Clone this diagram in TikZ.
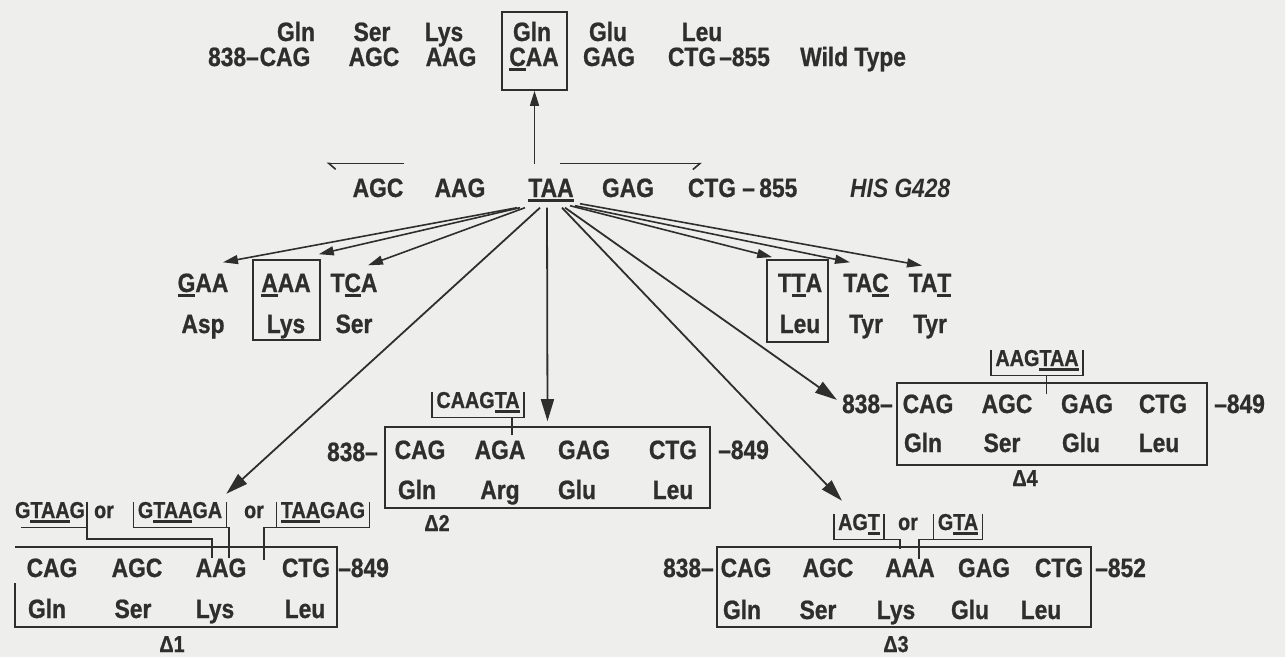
\documentclass[tikz,border=0pt]{standalone}
\usepackage{fontspec}
\newfontfamily\seqfont{Liberation Sans}[FakeStretch=0.86,BoldFeatures={FakeBold=0.8}]
\usepackage{tikz}
\usetikzlibrary{arrows.meta,calc}
\definecolor{paper}{HTML}{EEEEEC}
\definecolor{ink}{HTML}{2E2E2E}
% underlined letters
\newcommand\ulet[1]{\setbox0=\hbox{#1}\rlap{\rule[-4.5pt]{\wd0}{2.2pt}}\box0}
% open bracket under an inserted sequence
\newcommand\bracketit[1]{\draw[bline] (#1.north west) -- ([yshift=-5pt]#1.south west) -- ([yshift=-5pt]#1.south east) -- (#1.north east);}

\begin{document}
\begin{tikzpicture}[x=1pt,y=-1pt,color=ink,
  seq/.style={font=\seqfont\bfseries\fontsize{26.5}{28}\selectfont,inner sep=0pt,anchor=base},
  sml/.style={font=\seqfont\bfseries\fontsize{23}{25}\selectfont,inner sep=0pt,anchor=base},
  brk/.style={sml,inner xsep=4pt},
  boxed/.style={draw,line width=1.6pt,inner sep=0pt},
  bline/.style={line width=1.5pt},
  frm/.style={line width=1.6pt},
  bigarr/.style={line width=1.8pt,-{Triangle[length=22pt,width=13pt]}},
  smlarr/.style={line width=1.6pt,-{Triangle[length=15pt,width=9pt]}}]
\fill[paper] (0,0) rectangle (1285,657);
\useasboundingbox (0,0) rectangle (1285,657);

% wild type
\node[seq] (wgln1) at (296,41) {Gln};
\node[seq] (wser) at (372,41) {Ser};
\node[seq] (wlys) at (444,41) {Lys};
\node[seq] (wgln2) at (532,41) {Gln};
\node[seq] (wglu) at (608,41) {Glu};
\node[seq] (wleu) at (702,41) {Leu};
\node[seq,anchor=base east] (w838) at (259,66) {838–};
\node[seq] (wcag) at (285,66) {CAG};
\node[seq] (wagc) at (374,66) {AGC};
\node[seq] (waag) at (451,66) {AAG};
\node[seq] (wcaa) at (534,66) {\ulet{C}AA};
\node[seq] (wgag) at (609,66) {GAG};
\node[seq] (wctg) at (692,66) {CTG};
\node[seq,anchor=base west] (w855) at (719,66) {–855};
\node[seq,anchor=base west] (wtlab) at (800,66) {Wild Type};
\node[boxed,minimum width=65pt,minimum height=78pt] (wtbox) at (534.5,51) {};

% HIS G428
\node[seq] (magc) at (378,197) {AGC};
\node[seq] (maag) at (460,197) {AAG};
\node[seq] (taa) at (551,197) {\ulet{TAA}};
\node[seq] (mgag) at (628,197) {GAG};
\node[seq] (mctg) at (712,197) {CTG};
\node[seq,anchor=base west] (m855) at (742,197) {–\,855};
\node[seq,anchor=base west] (hislab) at (850,197) {\itshape HIS G428};
\draw[frm,-{Straight Barb[harpoon,length=7pt,width=12pt]}] ([yshift=15pt]magc.north east) -- ++(-77,0);
\draw[frm,-{Straight Barb[harpoon,swap,length=7pt,width=12pt]}] ([xshift=9pt,yshift=15pt]taa.north) -- ++(142,0);
\draw[smlarr] ($(wtbox.south |- taa.north)+(0,-15)$) -- (wtbox.south);

% single base changes
\node[seq] (gaa) at (203,292) {\ulet{G}AA};
\node[seq] (aaa) at (286,292) {\ulet{A}AA};
\node[seq] (tca) at (354,292) {T\ulet{C}A};
\node[seq] (asp) at (203,333) {Asp};
\node[seq] (lys) at (286,333) {Lys};
\node[seq] (ser) at (354,333) {Ser};
\node[boxed,minimum width=67pt,minimum height=80pt] (aaabox) at (286.5,300) {};
\node[seq] (tta) at (800,292) {T\ulet{T}A};
\node[seq] (tac) at (866,292) {TA\ulet{C}};
\node[seq] (tat) at (930,292) {TA\ulet{T}};
\node[seq] (leu) at (800,333) {Leu};
\node[seq] (tyr1) at (866,333) {Tyr};
\node[seq] (tyr2) at (930,333) {Tyr};
\node[boxed,minimum width=61pt,minimum height=82pt] (ttabox) at (797.5,301) {};
\draw[smlarr] ($(taa.south)+(-34,6)$) -- ([xshift=20pt,yshift=11pt]gaa.north);
\draw[smlarr] ($(taa.south)+(-31,6)$) -- ([xshift=-2pt,yshift=5pt]aaabox.north east);
\draw[smlarr] ($(taa.south)+(-26,6)$) -- ([xshift=14pt,yshift=8pt]tca.north);
\draw[smlarr] ($(taa.south)+(19,4)$) -- ([xshift=6pt,yshift=2pt]ttabox.north west);
\draw[smlarr] ($(taa.south)+(24,4)$) -- ([xshift=-16pt,yshift=11pt]tac.north);
\draw[smlarr] ($(taa.south)+(29,2)$) -- ([xshift=-8pt,yshift=8pt]tat.north);

% delta 1
\node[sml] (d1a) at (50,518) {G\ulet{TAA}G};
\node[sml] (d1or1) at (104,518) {or};
\node[brk] (d1b) at (180,518) {G\ulet{TAA}GA};
\node[sml] (d1or2) at (254,518) {or};
\node[brk] (d1c) at (323,518) {\ulet{TAA}GAG};
\node[seq] (d1cag) at (52,577) {CAG};
\node[seq] (d1agc) at (137,577) {AGC};
\node[seq] (d1aag) at (221,577) {AAG};
\node[seq] (d1ctg) at (306,577) {CTG};
\node[seq,anchor=base west] (d1849) at (338,577) {–849};
\node[seq] (d1gln) at (47,618) {Gln};
\node[seq] (d1ser) at (133,618) {Ser};
\node[seq] (d1lys) at (215,618) {Lys};
\node[seq] (d1leu) at (305,618) {Leu};
\node[sml] (d1lab) at (172,652) {Δ1};
\draw[boxed] (15,583) |- (337,627) |- (15,547);
\draw[bline] ([xshift=6pt,yshift=-5pt]d1a.south west) -- ([xshift=2pt,yshift=-5pt]d1a.south east);
\draw[bline] ([xshift=2pt]d1a.north east) -- ++(0,37) -| ([xshift=-9pt]d1aag.north);
\bracketit{d1b}
\draw[bline] ([xshift=8pt]d1aag.north) |- ([yshift=-5pt]d1b.south);
\bracketit{d1c}
\draw[bline] ($(d1aag.north east)!.5!(d1ctg.north west)+(0,2)$) |- ([yshift=-5pt]d1c.south);

% delta 2
\node[boxed,minimum width=325pt,minimum height=81pt] (d2box) at (547.5,467.5) {};
\node[seq,anchor=base east] (d2838) at (378,461) {838–};
\node[seq] (d2cag) at (420,459) {CAG};
\node[seq] (d2aga) at (500,459) {AGA};
\node[seq] (d2gag) at (584,459) {GAG};
\node[seq] (d2ctg) at (673,459) {CTG};
\node[seq,anchor=base west] (d2849) at (718,459) {–849};
\node[seq] (d2gln) at (417,499) {Gln};
\node[seq] (d2arg) at (500,499) {Arg};
\node[seq] (d2glu) at (577,499) {Glu};
\node[seq] (d2leu) at (673,499) {Leu};
\node[brk] (d2ins) at (478,408) {CAAG\ulet{TA}};
\node[sml] (d2lab) at (437,531) {Δ2};
\bracketit{d2ins}
\draw[bline] ([xshift=12pt,yshift=5pt]d2aga.north) |- ([yshift=-5pt]d2ins.south);

% delta 3
\node[boxed,minimum width=374pt,minimum height=80pt] (d3box) at (904,587) {};
\node[seq,anchor=base east] (d3838) at (714,577) {838–};
\node[seq] (d3cag) at (746,577) {CAG};
\node[seq] (d3agc) at (828,577) {AGC};
\node[seq] (d3aaa) at (910,577) {AAA};
\node[seq] (d3gag) at (984,577) {GAG};
\node[seq] (d3ctg) at (1059,577) {CTG};
\node[seq,anchor=base west] (d3852) at (1095,577) {–852};
\node[seq] (d3gln) at (742,619) {Gln};
\node[seq] (d3ser) at (818,619) {Ser};
\node[seq] (d3lys) at (896,619) {Lys};
\node[seq] (d3glu) at (970,619) {Glu};
\node[seq] (d3leu) at (1041,619) {Leu};
\node[brk] (d3a) at (859,530) {AG\ulet{T}};
\node[sml] (d3or) at (908,530) {or};
\node[brk] (d3b) at (958,530) {G\ulet{TA}};
\node[sml] (d3lab) at (896,652) {Δ3};
\bracketit{d3a}
\bracketit{d3b}
\draw[bline] ([xshift=-10pt,yshift=10pt]d3aaa.north) |- ([yshift=-5pt]d3a.south east);
\draw[bline] ([xshift=9pt]d3aaa.north) |- ([yshift=-5pt]d3b.south west);

% delta 4
\node[boxed,minimum width=310pt,minimum height=82pt] (d4box) at (1052,424) {};
\node[seq,anchor=base east] (d4838) at (893,413) {838–};
\node[seq] (d4cag) at (928,413) {CAG};
\node[seq] (d4agc) at (1007,413) {AGC};
\node[seq] (d4gag) at (1087,413) {GAG};
\node[seq] (d4ctg) at (1163,413) {CTG};
\node[seq,anchor=base west] (d4849) at (1214,413) {–849};
\node[seq] (d4gln) at (923,452) {Gln};
\node[seq] (d4ser) at (1002,452) {Ser};
\node[seq] (d4glu) at (1081,452) {Glu};
\node[seq] (d4leu) at (1159,452) {Leu};
\node[brk] (d4ins) at (1037,366) {AAG\ulet{TAA}};
\node[sml] (d4lab) at (1025,486) {Δ4};
\bracketit{d4ins}
\draw[bline] ($(d4agc.north east)!.5!(d4gag.north west)$) |- ([yshift=-5pt]d4ins.south);

% deletions
\draw[bigarr] ($(taa.south)+(-11,6)$) -- ([yshift=8pt]d1b.north east);
\draw[bigarr] ($(taa.south)+(-4,6)$) -- ([yshift=5pt]d2box.north);
\draw[bigarr] ($(taa.south)+(11,6)$) -- ([xshift=-17pt,yshift=13pt]d3a.north);
\draw[bigarr] ($(taa.south)+(14,6)$) -- ([xshift=-5pt,yshift=4pt]d4838.west);
\end{tikzpicture}
\end{document}
